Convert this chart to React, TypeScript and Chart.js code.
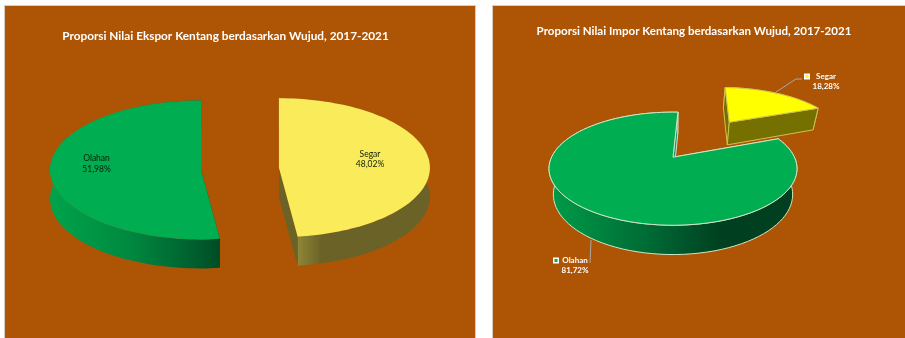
import React, { useEffect, useRef } from "react";
import { Chart, registerables } from "chart.js";

Chart.register(...registerables);

const categories = ["Segar", "Olahan"];
const eksporShares = [48.02, 51.98];
const imporShares = [18.28, 81.72];
const eksporTitle = "Proporsi Nilai Ekspor Kentang berdasarkan Wujud, 2017-2021";
const imporTitle = "Proporsi Nilai Impor Kentang berdasarkan Wujud, 2017-2021";

type Stop = [number, string];
type Panel = {
  title: string;
  titleSize: number;
  values: number[];
  left: number;
  top: number;
  width: number;
  height: number;
  titlePadTop: number;
  titleShift: number;
  padRight: number;
  padBottom: number;
  radius: number;
  rotation: number;
  offsets: number[];
  tilt: number; // vertical squash of the disc
  perspective: number; // how strongly the far side recedes
  depth: number;
  depthPower: number;
  taper: number; // lower rim narrows a little towards the centre
  fills: string[];
  edges: string[];
  edgeWidth: number;
  rimStops: Stop[][];
  sideColors: string[];
  labelColor: string;
  labelWeight: string;
  labelSize: number;
  labelAt: [number, number][];
  leaders?: [number, number][][];
  keyAt?: [number, number][];
  keyFills?: string[];
};

const PANEL_BG = "#AE5505";

const eksporPanel: Panel = {
  title: eksporTitle,
  titleSize: 11.8,
  values: eksporShares,
  left: 5,
  top: 6,
  width: 470,
  height: 332,
  titlePadTop: 23.5,
  titleShift: -14.5,
  padRight: 0,
  padBottom: 44,
  radius: 151,
  rotation: 0,
  offsets: [39, 39],
  tilt: 0.46,
  perspective: 0,
  depth: 29,
  depthPower: 0,
  taper: 0,
  fills: ["#FAEB5A", "#00AD50"],
  edges: ["#C9B94A", "#00A04A"],
  edgeWidth: 0,
  rimStops: [
    [[0, "#8F8636"], [0.18, "#6B6228"], [1, "#6B6228"]],
    [[0, "#00A34B"], [0.45, "#008A40"], [0.75, "#006A33"], [1, "#004D25"]],
  ],
  sideColors: ["#6B6228", "#004D25"],
  labelColor: "#0B1F0B",
  labelWeight: "normal",
  labelSize: 8.5,
  labelAt: [[370, 154], [96.5, 158.5]],
};

const imporPanel: Panel = {
  title: imporTitle,
  titleSize: 11.55,
  values: imporShares,
  left: 493,
  top: 6,
  width: 412,
  height: 332,
  titlePadTop: 18.5,
  titleShift: 21,
  padRight: 52,
  padBottom: 62,
  radius: 121.4,
  rotation: 2.8,
  offsets: [111, 0],
  tilt: 0.4465,
  perspective: 0.2035,
  depth: 25,
  depthPower: 0.7,
  taper: 0.035,
  fills: ["#FFFF00", "#00AD50"],
  edges: ["#CFC24F", "#CDE6C4"],
  edgeWidth: 1,
  rimStops: [
    [[0, "#757000"], [1, "#757000"]],
    [[0, "#009A48"], [0.4, "#006A35"], [0.7, "#004020"], [1, "#004020"]],
  ],
  sideColors: ["#757000", "#2F8F74"],
  labelColor: "#FFFFFF",
  labelWeight: "bold",
  labelSize: 8,
  labelAt: [[826, 76], [575, 260]],
  leaders: [
    [[776, 92], [796, 79], [802, 79]],
    [[591, 240], [590, 263]],
  ],
  keyAt: [[807, 76.5], [556, 260.5]],
  keyFills: ["#FFFF00", "#00AD50"],
};

// Extrudes the arcs the controller laid out into a tilted 3D pie.
function pie3dPlugin(p: Panel) {
  return {
    id: "pie3d",
    afterLayout(chart: any) {
      // The heading sits off the pie's centre line.
      const block = chart.titleBlock;
      if (block) {
        block.left += p.titleShift;
        block.right += p.titleShift;
      }
    },
    beforeDatasetDraw(chart: any) {
      const ctx: CanvasRenderingContext2D = chart.ctx;
      const arcs: any[] = chart.getDatasetMeta(0).data;

      const project = (arc: any, ux: number, uy: number, low: boolean) => {
        const w = 1 - p.perspective * uy;
        let x = (arc.outerRadius * ux) / w;
        const y = (arc.outerRadius * p.tilt * uy) / w;
        let drop = 0;
        if (low) {
          drop = p.depth * Math.pow(1 / w, p.depthPower);
          x *= 1 - p.taper;
        }
        return [arc.x + x, arc.y + y + drop];
      };

      arcs.forEach((arc, i) => {
        const o = arc.options;
        const mid = (arc.startAngle + arc.endAngle) / 2;
        const ex = (Math.cos(mid) * (o.offset || 0)) / arc.outerRadius;
        const ey = (Math.sin(mid) * (o.offset || 0)) / arc.outerRadius;
        const steps = 96;
        const angles: number[] = [];
        for (let s = 0; s <= steps; s++) {
          angles.push(arc.startAngle + ((arc.endAngle - arc.startAngle) * s) / steps);
        }
        const upper = angles.map((a) => project(arc, ex + Math.cos(a), ey + Math.sin(a), false));
        const lower = angles.map((a) => project(arc, ex + Math.cos(a), ey + Math.sin(a), true));
        const hubTop = project(arc, ex, ey, false);
        const hubLow = project(arc, ex, ey, true);

        const poly = (pts: number[][], fill: any) => {
          ctx.beginPath();
          pts.forEach((pt, k) => (k ? ctx.lineTo(pt[0], pt[1]) : ctx.moveTo(pt[0], pt[1])));
          ctx.closePath();
          ctx.fillStyle = fill;
          ctx.fill();
          if (o.borderWidth > 0) {
            ctx.strokeStyle = o.borderColor;
            ctx.lineWidth = o.borderWidth;
            ctx.lineJoin = "round";
            ctx.stroke();
          }
        };

        ctx.save();
        // outer wall first, shaded across its visible width
        const front = lower.filter((_, k) => Math.sin(angles[k]) >= 0);
        const span = (front.length ? front : lower).map((pt) => pt[0]);
        const grad = ctx.createLinearGradient(Math.min(...span), 0, Math.max(...span), 0);
        p.rimStops[i].forEach(([f, c]) => grad.addColorStop(f, c));
        poly([...upper, ...[...lower].reverse()], grad);

        // radial cut faces
        const side = p.sideColors[i];
        poly([hubTop, upper[0], lower[0], hubLow], side);
        poly([hubTop, upper[steps], lower[steps], hubLow], side);

        // top face
        poly([hubTop, ...upper], o.backgroundColor);
        ctx.restore();
      });
      return false;
    },
    afterDatasetsDraw(chart: any) {
      const ctx: CanvasRenderingContext2D = chart.ctx;
      ctx.save();
      (p.leaders || []).forEach((line) => {
        ctx.beginPath();
        line.forEach(([x, y], k) => {
          const cx = x - p.left;
          const cy = y - p.top;
          if (k) ctx.lineTo(cx, cy);
          else ctx.moveTo(cx, cy);
        });
        ctx.strokeStyle = "#A8A8A8";
        ctx.lineWidth = 1;
        ctx.stroke();
      });
      (p.keyAt || []).forEach(([x, y], i) => {
        const cx = x - p.left;
        const cy = y - p.top;
        ctx.fillStyle = "#FFFFFF";
        ctx.fillRect(cx - 3, cy - 3, 6, 6);
        ctx.fillStyle = (p.keyFills || [])[i];
        ctx.fillRect(cx - 1.5, cy - 1.5, 3, 3);
      });
      ctx.fillStyle = p.labelColor;
      ctx.font = `${p.labelWeight} ${p.labelSize}px Lato`;
      ctx.textAlign = "center";
      ctx.textBaseline = "middle";
      chart.data.labels.forEach((name: string, i: number) => {
        const [x, y] = p.labelAt[i];
        const share = chart.data.datasets[0].data[i].toFixed(2).replace(".", ",") + "%";
        ctx.fillText(name, x - p.left, y - p.top);
        ctx.fillText(share, x - p.left, y - p.top + 10.5);
      });
      ctx.restore();
    },
  };
}

function PiePanel({ panel }: { panel: Panel }) {
  const ref = useRef<HTMLCanvasElement>(null);
  useEffect(() => {
    const chart = new Chart(ref.current as HTMLCanvasElement, {
      type: "pie",
      data: {
        labels: categories,
        datasets: [
          {
            data: panel.values,
            backgroundColor: panel.fills,
            borderColor: panel.edges,
            borderWidth: panel.edgeWidth,
            offset: panel.offsets,
          },
        ],
      },
      options: {
        responsive: false,
        animation: false,
        radius: panel.radius,
        rotation: panel.rotation,
        layout: { padding: { left: 0, top: 0, right: panel.padRight, bottom: panel.padBottom } },
        plugins: {
          legend: { display: false },
          tooltip: { enabled: false },
          title: {
            display: true,
            text: panel.title,
            color: "#FFFFFF",
            font: { family: "Lato", size: panel.titleSize, weight: "bold", lineHeight: 1.2 },
            padding: { top: panel.titlePadTop, bottom: 0 },
          },
        },
      } as any,
      plugins: [pie3dPlugin(panel)],
    });
    return () => chart.destroy();
  }, [panel]);
  return (
    <canvas
      ref={ref}
      width={panel.width}
      height={panel.height}
      style={{
        position: "absolute",
        left: panel.left,
        top: panel.top,
        width: panel.width,
        height: panel.height,
        display: "block",
        background: PANEL_BG,
        boxShadow: "0 0 0 1px #D8CCC0",
      }}
    />
  );
}

export default function App() {
  return (
    <div style={{ position: "fixed", inset: 0, overflow: "hidden", background: "#FFFFFF" }}>
      <PiePanel panel={eksporPanel} />
      <PiePanel panel={imporPanel} />
    </div>
  );
}
